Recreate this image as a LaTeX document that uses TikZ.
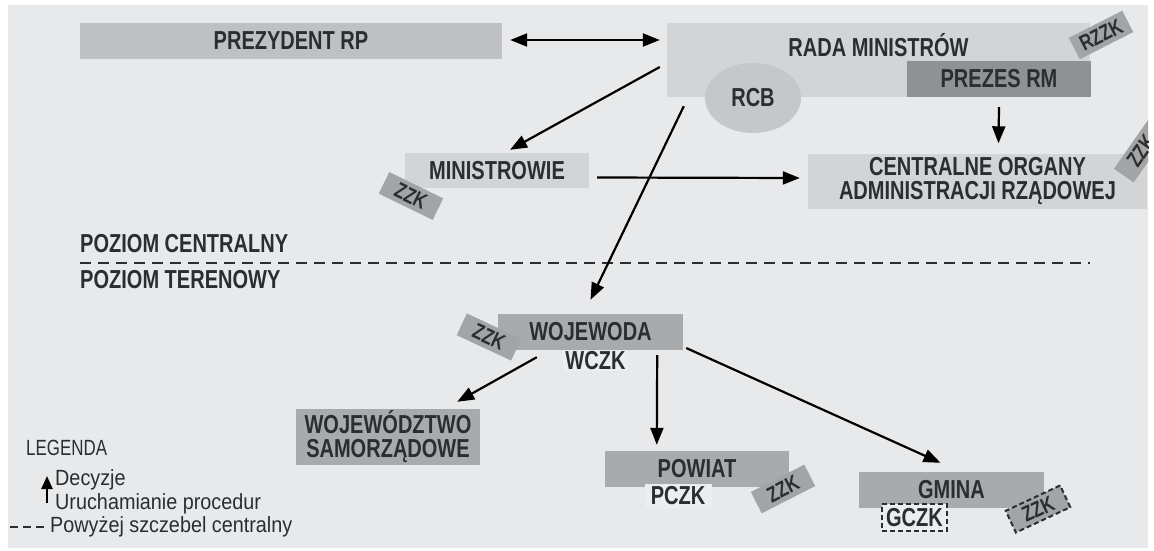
\documentclass[tikz,border=0pt]{standalone}
\usepackage{fontspec}
\setmainfont{Liberation Sans}[FakeStretch=0.77]
\newfontfamily\legfont{Liberation Sans}[FakeStretch=0.9]
\usetikzlibrary{arrows.meta,positioning,calc,shapes.geometric}
\definecolor{bgr}{HTML}{E8E9EB}
\definecolor{lgr}{HTML}{D3D4D6}
\definecolor{pgr}{HTML}{BFC0C2}
\definecolor{cgr}{HTML}{C6C7C9}
\definecolor{mgr}{HTML}{A9AAAC}
\definecolor{dgr}{HTML}{909193}
\definecolor{tgr}{HTML}{A3A4A6}
\definecolor{wgr}{HTML}{ECEDEF}
\definecolor{ink}{HTML}{2C2D2F}
\tikzset{
  box/.style={fill=#1,inner sep=0pt,text=ink,align=center,
    font=\fontsize{26}{24}\selectfont\bfseries},
  tag/.style={fill=tgr,inner sep=0pt,minimum width=60pt,minimum height=24pt,
    text=ink,font=\fontsize{22}{22}\selectfont\bfseries},
  legt/.style={inner sep=0pt,anchor=west,text=ink,font=\legfont\fontsize{22}{22}\selectfont},
  arr/.style={-{Triangle[length=17pt,width=13pt]},line width=2.2pt,black},
  dline/.style={dashed,dash pattern=on 11pt off 7pt,line width=2.6pt,ink},
}

\begin{document}
\begin{tikzpicture}[x=1pt,y=-1pt]
  \fill[white] (0,0) rectangle (1154,551);
  \useasboundingbox (0,0) rectangle (1154,551);
  \begin{scope}
  \clip (8,5) rectangle (1148,548);
  \fill[bgr] (8,5) rectangle (1148,548);
  \node[box=pgr,minimum width=422pt,minimum height=36pt] (prez) at (291,41) {PREZYDENT RP};
  \node[box=lgr,minimum width=423pt,minimum height=74pt] (rada) at (878.5,60) {};
  \node[box=lgr] (radat) at ($(rada.north)+(0,22)$) {RADA MINISTRÓW};
  \node[box=dgr,minimum width=184pt,minimum height=36pt] (prezes) at (999,79) {PREZES RM};
  \node[box=cgr,ellipse,minimum width=96pt,minimum height=70pt] (rcb) at (753,98) {RCB};
  \node[box=lgr,minimum width=184pt,minimum height=35pt] (mini) at (497,170.5) {MINISTROWIE};
  \node[box=lgr,minimum width=339pt,minimum height=55pt] (centr) at (977.5,181) {CENTRALNE ORGANY\\ADMINISTRACJI RZĄDOWEJ};
  \node[tag,rotate=27] (rzzk) at (1101,35) {RZZK};
  \node[tag,rotate=55] (zzkc) at (1141,151) {ZZK};
  \node[tag,rotate=-26] (zzkm) at (411,196) {ZZK};

  \coordinate (dl) at (80,263);
  \coordinate (dr) at (1090,263);
  \draw[dline] (dl) -- (dr);
  \node[box=bgr,anchor=west] (pcen) at (80,244) {POZIOM CENTRALNY};
  \node[box=bgr,anchor=west] (pter) at (80,280) {POZIOM TERENOWY};

  \node[box=mgr,minimum width=185pt,minimum height=36pt] (woj) at (590.5,332) {WOJEWODA};
  \node[box=wgr,minimum width=65pt,minimum height=20pt] (wczk) at (595.5,361) {WCZK};
  \node[tag,rotate=-25] (zzkw) at (489,337) {ZZK};
  \node[box=mgr,minimum width=184pt,minimum height=56pt] (wsam) at (388,437) {WOJEWÓDZTWO\\SAMORZĄDOWE};
  \node[box=mgr,minimum width=184pt,minimum height=36pt] (pow) at (697,469) {POWIAT};
  \node[box=wgr,minimum width=67pt,minimum height=25pt] (pczk) at (678,496) {PCZK};
  \node[tag,rotate=27] (zzkp) at (783,489) {ZZK};
  \node[box=mgr,minimum width=185pt,minimum height=36pt] (gmi) at (951.5,490) {GMINA};
  \node[box=wgr,draw=ink,dashed,dash pattern=on 5pt off 3pt,line width=2pt,
    minimum width=65pt,minimum height=27pt] (gczk) at (914.5,517.5) {GCZK};
  \node[tag,rotate=25,draw=ink,dashed,dash pattern=on 5pt off 3pt,line width=2pt] (zzkg) at (1038,509) {ZZK};

  \draw[arr,{Triangle[length=17pt,width=13pt]}-{Triangle[length=17pt,width=13pt]}]
    ([shift={(8,-1)}]prez.east) -- ([shift={(-7,-20)}]rada.west);
  \draw[arr] ([shift={(-7,7)}]rada.west) -- ([shift={(13,-3)}]mini.north);
  \draw[arr] ([shift={(17,9)}]rada.south west) -- ([shift={(0,-14)}]woj.north);
  \draw[arr] ([shift={(0,10)}]prezes.south) -- ([shift={(21,-10)}]centr.north);
  \draw[arr] ([shift={(8,7)}]mini.east) -- ([shift={(-8,-3)}]centr.west);
  \draw[arr] ([shift={(39,7)}]woj.south west) -- ([shift={(-23,-7)}]wsam.north east);
  \draw[arr] ([shift={(-26,5)}]woj.south east) -- ([shift={(52,-6)}]pow.north west);
  \draw[arr] ([shift={(3,16)}]woj.east) -- ([shift={(-11,-9)}]gmi.north);

  \node[legt,font=\fontsize{22}{22}\selectfont] (leg) at (26,448) {LEGENDA};
  \node[legt] (dec) at (55,480) {Decyzje};
  \node[legt] (uru) at (55,504) {Uruchamianie procedur};
  \node[legt] (cen) at (50,527) {Powyżej szczebel centralny};
  \coordinate (la) at (47,503);
  \coordinate (lb) at (47,476);
  \draw[-{Triangle[length=13pt,width=11pt]},line width=2.4pt,black] (la) -- (lb);
  \coordinate (lc) at (10,527);
  \coordinate (ld) at (46,527);
  \draw[dline,dash pattern=on 8pt off 5pt,line width=2.2pt] (lc) -- (ld);
  \end{scope}
\end{tikzpicture}
\end{document}
